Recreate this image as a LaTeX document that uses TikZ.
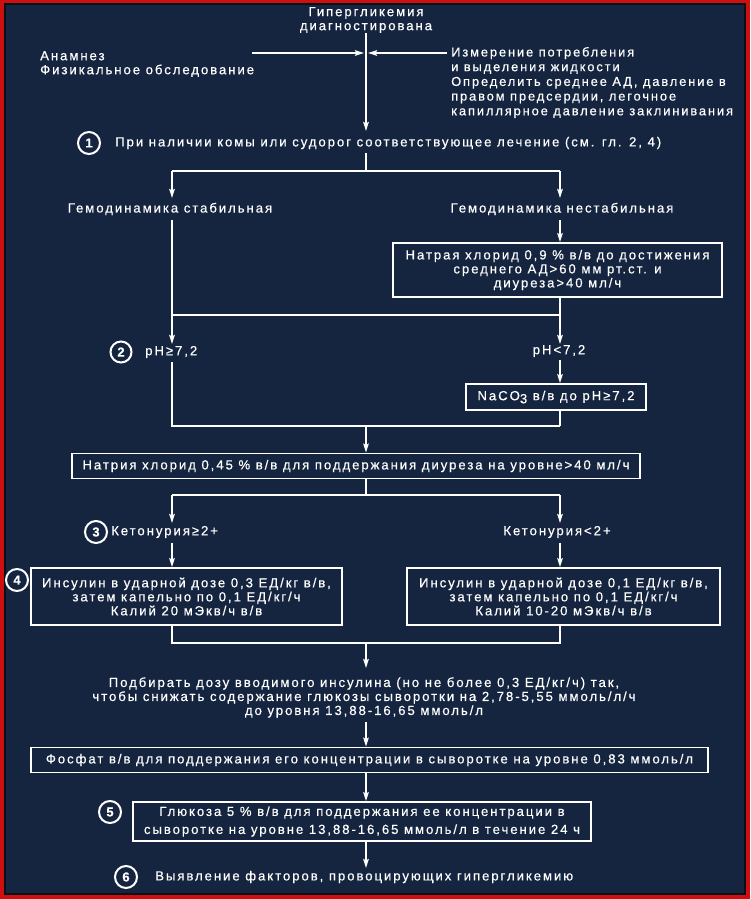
\documentclass[tikz,border=0pt]{standalone}
\usepackage{fontspec}
\setmainfont{Liberation Sans}[LetterSpace=14.5,FakeBold=0.4]
\usetikzlibrary{arrows.meta}
\definecolor{bgnavy}{RGB}{21,37,64}
\definecolor{framered}{RGB}{205,15,15}
\begin{document}
\begin{tikzpicture}[x=1pt,y=-1pt,
 txt/.style={text=white,inner sep=0pt,font=\fontsize{13.2}{14}\selectfont},
 box/.style={draw=white,line width=1.7pt,fill=bgnavy,text=white,inner sep=0pt,align=center,font=\fontsize{13.2}{14}\selectfont},
 num/.style={circle,draw=white,line width=2pt,minimum size=22pt,inner sep=0pt,text=white,font=\fontsize{13}{12}\selectfont\bfseries},
 ln/.style={draw=white,line width=1.7pt},
 arr/.style={ln,-{Stealth[length=9pt,width=5.5pt,inset=1.5pt]}}]
% background and frame
\fill[framered] (0,0) rectangle (750,899);
\fill[black!60!bgnavy] (4,3) rectangle (746,895);
\fill[bgnavy] (6,5) rectangle (744,893);

% top
\node[txt,align=center] (title) at (366,20) {Гипергликемия\\диагностирована};
\node[txt,align=left,anchor=west] (anam) at (40,64) {Анамнез\\Физикальное обследование};
\node[txt,align=left,anchor=west,font=\fontsize{12.9}{14.7}\selectfont] (meas) at (451,82.5)
 {Измерение потребления\\и выделения жидкости\\Определить среднее АД, давление в\\правом предсердии, легочное\\капиллярное давление заклинивания};
\coordinate (hls) at (252,53);
\coordinate (hl) at (364,53);
\coordinate (hrs) at (447,53);
\coordinate (hr) at (368,53);
\draw[arr] (hls) -- (hl);
\draw[arr] (hrs) -- (hr);
\coordinate (ax1) at (366,131);
\draw[arr] (title.south) -- (ax1);

% step 1
\node[num] (c1) at (89,143) {1};
\node[txt,anchor=west] (t1) at (115,143) {При наличии комы или судорог соответствующее лечение (см. гл. 2, 4)};
\coordinate (s1) at (366,153);
\coordinate (j1) at (366,171);
\coordinate (jl1) at (172,171);
\coordinate (jr1) at (560,171);
\coordinate (al1) at (172,198);
\coordinate (ar1) at (560,198);
\draw[ln] (s1) -- (j1);
\draw[ln] (jl1) -- (jr1);
\draw[arr] (jl1) -- (al1);
\draw[arr] (jr1) -- (ar1);
\node[txt] (hs) at (170,209) {Гемодинамика стабильная};
\node[txt] (hn) at (562,209) {Гемодинамика нестабильная};

% saline 0.9
\node[box,minimum width=329pt,minimum height=54pt] (b1) at (557.5,270)
 {Натрая хлорид 0,9 \% в/в до достижения\\среднего АД>60 мм рт.ст. и\\диуреза>40 мл/ч};
\coordinate (hsb) at (172,220);
\coordinate (hnb) at (560,220);
\coordinate (jl2) at (172,315);
\coordinate (jr2) at (560,315);
\draw[arr] (hnb) -- (b1.north -| hnb);
\draw[ln] (b1.south -| jr2) -- (jr2);
\draw[ln] (hsb) -- (jl2) -- (jr2);
\coordinate (al2) at (172,344);
\coordinate (ar2) at (560,344);
\draw[arr] (jl2) -- (al2);
\draw[arr] (jr2) -- (ar2);

% pH
\node[num,minimum size=21pt] (c2) at (121,352) {2};
\node[txt,anchor=west] (ph1) at (145,352) {pH≥7,2};
\node[txt] (ph2) at (559,351) {pH<7,2};
\node[box,minimum width=180pt,minimum height=26pt] (b2) at (556,397)
 {NaCO\raisebox{-3pt}{3} в/в до pH≥7,2};
\coordinate (ph1b) at (172,362);
\coordinate (ph2b) at (560,360);
\coordinate (jl3) at (172,426);
\coordinate (jr3) at (560,426);
\coordinate (jc3) at (366,426);
\draw[arr] (ph2b) -- (b2.north -| ph2b);
\draw[ln] (b2.south -| jr3) -- (jr3);
\draw[ln] (ph1b) -- (jl3) -- (jr3);

% saline 0.45
\node[box,minimum width=568pt,minimum height=25pt] (b3) at (356,466)
 {Натрия хлорид 0,45 \% в/в для поддержания диуреза на уровне>40 мл/ч};
\draw[arr] (jc3) -- (b3.north -| jc3);
\coordinate (jc4) at (366,495);
\coordinate (jl4) at (172,495);
\coordinate (jr4) at (560,495);
\draw[ln] (b3.south -| jc4) -- (jc4);
\draw[ln] (jl4) -- (jr4);
\coordinate (al4) at (172,523);
\coordinate (ar4) at (560,523);
\draw[arr] (jl4) -- (al4);
\draw[arr] (jr4) -- (ar4);

% ketonuria
\node[num] (c3) at (96,532) {3};
\node[txt,anchor=west] (k1) at (111,532) {Кетонурия≥2+};
\node[txt] (k2) at (557,532) {Кетонурия<2+};
\node[box,minimum width=311pt,minimum height=57pt] (b4l) at (186.5,596.5)
 {Инсулин в ударной дозе 0,3 ЕД/кг в/в,\\затем капельно по 0,1 ЕД/кг/ч\\Калий 20 мЭкв/ч в/в};
\node[box,minimum width=313pt,minimum height=57pt] (b4r) at (563.5,596.5)
 {Инсулин в ударной дозе 0,1 ЕД/кг в/в,\\затем капельно по 0,1 ЕД/кг/ч\\Калий 10-20 мЭкв/ч в/в};
\node[num] (c4) at (17,580) {4};
\coordinate (k1b) at (172,543);
\coordinate (k2b) at (560,543);
\draw[arr] (k1b) -- (b4l.north -| k1b);
\draw[arr] (k2b) -- (b4r.north -| k2b);
\coordinate (jl5) at (172,643);
\coordinate (jr5) at (560,643);
\coordinate (jc5) at (366,643);
\draw[ln] (b4l.south -| jl5) -- (jl5) -- (jr5) -- (b4r.south -| jr5);
\coordinate (ac5) at (366,668);
\draw[arr] (jc5) -- (ac5);

% insulin dose text
\node[txt,align=center] (dose) at (364,697.5)
 {Подбирать дозу вводимого инсулина (но не более 0,3 ЕД/кг/ч) так,\\чтобы снижать содержание глюкозы сыворотки на 2,78-5,55 ммоль/л/ч\\до уровня 13,88-16,65 ммоль/л};
\node[box,minimum width=677pt,minimum height=25pt] (b6) at (369.5,760)
 {Фосфат в/в для поддержания его концентрации в сыворотке на уровне 0,83 ммоль/л};
\coordinate (db) at (366,722);
\draw[arr] (db) -- (b6.north -| db);

% glucose
\node[box,minimum width=458pt,minimum height=39pt,font=\fontsize{13.2}{18}\selectfont] (b7) at (362,821.5)
 {Глюкоза 5 \% в/в для поддержания ее концентрации в\\сыворотке на уровне 13,88-16,65 ммоль/л в течение 24 ч};
\node[num] (c5) at (110,812) {5};
\coordinate (b6b) at (366,773);
\draw[arr] (b6.south -| b6b) -- (b7.north -| b6b);

% final
\node[num] (c6) at (126,877) {6};
\node[txt,anchor=west] (t6) at (155,877) {Выявление факторов, провоцирующих гипергликемию};
\coordinate (a6) at (366,868);
\draw[arr] (b7.south -| a6) -- (a6);
\end{tikzpicture}
\end{document}
